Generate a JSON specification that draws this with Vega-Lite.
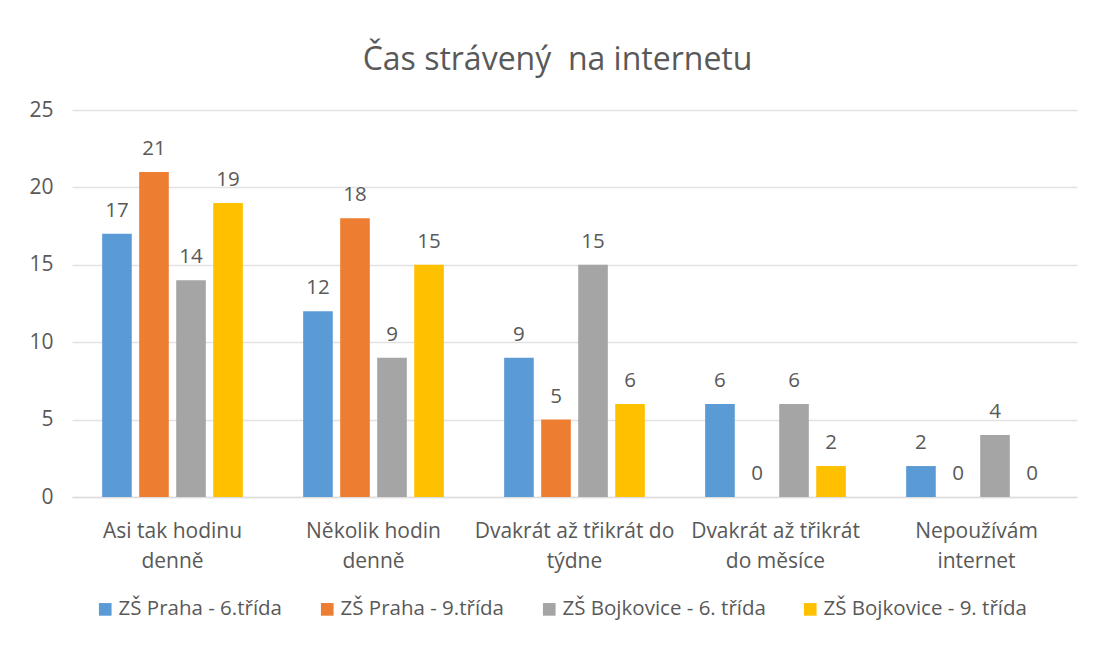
{
  "$schema": "https://vega.github.io/schema/vega-lite/v6.json",
  "width": 1005,
  "height": 387,
  "autosize": {"type": "none"},
  "padding": {"left": 72, "top": 110, "right": 16, "bottom": 148},
  "background": "white",
  "title": {
    "text": "Čas strávený\u00a0 na internetu",
    "fontSize": 32,
    "font": "Open Sans",
    "fontWeight": "normal",
    "color": "#595959",
    "offset": 22,
    "dx": -17
  },
  "data": {
    "values": [
      {"kategorie": "Asi tak hodinu|denně", "skupina": "ZŠ Praha - 6.třída", "pocet": 17},
      {"kategorie": "Asi tak hodinu|denně", "skupina": "ZŠ Praha - 9.třída", "pocet": 21},
      {"kategorie": "Asi tak hodinu|denně", "skupina": "ZŠ Bojkovice - 6. třída", "pocet": 14},
      {"kategorie": "Asi tak hodinu|denně", "skupina": "ZŠ Bojkovice - 9. třída", "pocet": 19},
      {"kategorie": "Několik hodin|denně", "skupina": "ZŠ Praha - 6.třída", "pocet": 12},
      {"kategorie": "Několik hodin|denně", "skupina": "ZŠ Praha - 9.třída", "pocet": 18},
      {"kategorie": "Několik hodin|denně", "skupina": "ZŠ Bojkovice - 6. třída", "pocet": 9},
      {"kategorie": "Několik hodin|denně", "skupina": "ZŠ Bojkovice - 9. třída", "pocet": 15},
      {"kategorie": "Dvakrát až třikrát do|týdne", "skupina": "ZŠ Praha - 6.třída", "pocet": 9},
      {"kategorie": "Dvakrát až třikrát do|týdne", "skupina": "ZŠ Praha - 9.třída", "pocet": 5},
      {"kategorie": "Dvakrát až třikrát do|týdne", "skupina": "ZŠ Bojkovice - 6. třída", "pocet": 15},
      {"kategorie": "Dvakrát až třikrát do|týdne", "skupina": "ZŠ Bojkovice - 9. třída", "pocet": 6},
      {"kategorie": "Dvakrát až třikrát|do měsíce", "skupina": "ZŠ Praha - 6.třída", "pocet": 6},
      {"kategorie": "Dvakrát až třikrát|do měsíce", "skupina": "ZŠ Praha - 9.třída", "pocet": 0},
      {"kategorie": "Dvakrát až třikrát|do měsíce", "skupina": "ZŠ Bojkovice - 6. třída", "pocet": 6},
      {"kategorie": "Dvakrát až třikrát|do měsíce", "skupina": "ZŠ Bojkovice - 9. třída", "pocet": 2},
      {"kategorie": "Nepoužívám|internet", "skupina": "ZŠ Praha - 6.třída", "pocet": 2},
      {"kategorie": "Nepoužívám|internet", "skupina": "ZŠ Praha - 9.třída", "pocet": 0},
      {"kategorie": "Nepoužívám|internet", "skupina": "ZŠ Bojkovice - 6. třída", "pocet": 4},
      {"kategorie": "Nepoužívám|internet", "skupina": "ZŠ Bojkovice - 9. třída", "pocet": 0}
    ]
  },
  "encoding": {
    "x": {
      "field": "kategorie",
      "type": "nominal",
      "sort": null,
      "scale": {"paddingInner": 0.3, "paddingOuter": 0.15},
      "axis": {
        "title": null,
        "labelAngle": 0,
        "labelExpr": "split(datum.label, '|')",
        "labelFontSize": 21,
        "labelLineHeight": 30,
        "labelPadding": 23,
        "labelColor": "#595959",
        "labelFont": "Open Sans",
        "ticks": false,
        "domainColor": "#DEDEDE",
        "domainWidth": 1.5,
        "labelLimit": 300
      }
    },
    "xOffset": {
      "field": "skupina",
      "type": "nominal",
      "sort": null,
      "scale": {"paddingInner": 0.2, "paddingOuter": 0}
    },
    "y": {
      "field": "pocet",
      "type": "quantitative",
      "scale": {"domain": [0, 25]},
      "axis": {
        "title": null,
        "values": [0, 5, 10, 15, 20, 25],
        "domain": false,
        "ticks": false,
        "labelFontSize": 21,
        "labelColor": "#595959",
        "labelFont": "Open Sans",
        "labelPadding": 19,
        "gridColor": "#E2E2E2",
        "gridWidth": 1.5
      }
    }
  },
  "layer": [
    {
      "mark": {"type": "bar"},
      "encoding": {
        "color": {
          "field": "skupina",
          "type": "nominal",
          "sort": null,
          "scale": {
            "domain": ["ZŠ Praha - 6.třída", "ZŠ Praha - 9.třída", "ZŠ Bojkovice - 6. třída", "ZŠ Bojkovice - 9. třída"],
            "range": ["#5B9BD5", "#ED7D31", "#A5A5A5", "#FFC000"]
          },
          "legend": {
            "title": null,
            "orient": "none",
            "legendX": 23,
            "legendY": 489,
            "direction": "horizontal",
            "symbolType": "square",
            "symbolSize": 160,
            "symbolStrokeWidth": 0,
            "labelFontSize": 20.5,
            "labelColor": "#595959",
            "labelFont": "Open Sans",
            "columnPadding": 34,
            "labelOffset": 3,
            "labelLimit": 300
          }
        }
      }
    },
    {
      "mark": {"type": "text", "baseline": "alphabetic", "dy": -17, "fontSize": 20.5, "color": "#595959", "font": "Open Sans"},
      "encoding": {
        "text": {"field": "pocet", "type": "quantitative"}
      }
    }
  ],
  "config": {
    "view": {"stroke": null}
  }
}
